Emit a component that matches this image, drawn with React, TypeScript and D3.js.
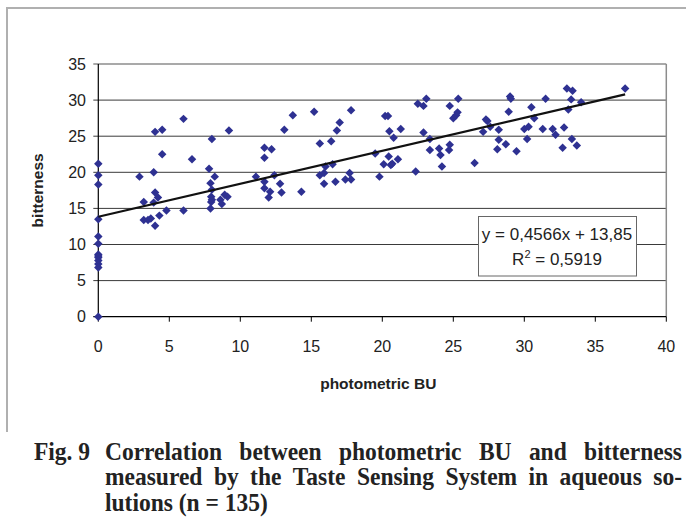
import React, { useMemo } from 'react';
import * as d3 from 'd3';

// ---- data ----
const xTicks = [0, 5, 10, 15, 20, 25, 30, 35, 40];
const yTicks = [0, 5, 10, 15, 20, 25, 30, 35];

// [photometric BU, bitterness]
const points: [number, number][] = [
  [0, 21.2], [0, 19.6], [0, 18.3], [0, 13.5], [0, 11.1], [0, 10.1], [0, 8.6], [0, 8.4], [0, 8.2], [0, 7.8], [0, 7.3], [0, 6.8], [0, 0],
  [2.9, 19.4], [3.2, 15.9], [3.2, 13.4], [3.5, 13.4], [3.7, 13.6], [3.9, 20.0], [3.9, 15.8], [4.0, 25.6], [4.0, 17.2], [4.2, 16.5],
  [4.0, 12.6], [4.3, 14.0], [4.5, 25.9], [4.5, 22.5], [4.8, 14.7], [6.0, 27.4], [6.0, 14.7], [6.6, 21.8],
  [8.0, 24.6], [7.8, 20.5], [8.2, 19.4], [7.9, 18.5], [8.0, 17.6], [7.95, 16.6], [7.95, 15.9], [7.9, 15.0], [8.0, 16.2],
  [8.6, 16.2], [8.7, 15.6], [8.9, 16.9], [9.1, 16.6], [9.2, 25.8],
  [11.1, 19.4], [11.7, 23.4], [12.2, 23.2], [11.7, 22.0], [11.7, 18.7], [12.4, 19.6], [11.7, 17.8], [12.1, 17.3], [12.0, 16.5],
  [12.8, 18.4], [12.9, 17.2], [14.3, 17.3], [13.1, 25.9], [13.7, 27.9],
  [15.2, 28.4], [15.6, 24.0], [16.4, 24.3], [16.8, 25.8], [17.0, 26.9], [17.8, 28.6], [15.6, 19.6], [15.9, 19.9], [15.9, 18.4],
  [16.5, 21.1], [16.0, 20.8], [16.7, 18.7], [17.4, 19.0], [17.7, 19.9], [17.8, 19.0],
  [19.5, 22.6], [19.8, 19.4], [20.1, 21.1], [20.2, 27.8], [20.4, 27.8], [20.5, 25.7], [20.8, 24.8], [21.3, 26.0], [20.45, 22.2],
  [20.7, 21.2], [21.1, 21.8], [20.6, 21.0],
  [22.35, 20.1], [22.5, 29.5], [22.9, 29.2], [23.1, 30.2], [22.9, 25.5], [23.35, 24.6], [23.35, 23.1], [24.0, 23.3], [24.1, 22.4],
  [24.2, 20.8], [24.7, 23.1], [24.75, 23.8], [24.75, 29.2], [25.35, 30.2], [25.0, 27.5], [25.2, 27.9], [25.3, 28.3],
  [26.5, 21.3], [27.1, 25.6], [27.4, 27.1], [27.3, 27.3], [27.6, 26.3], [28.2, 25.9], [28.2, 24.5], [28.1, 23.2], [28.7, 23.9],
  [29.0, 30.5], [29.05, 30.2], [28.9, 28.4], [29.45, 22.9],
  [30.0, 26.0], [30.3, 26.3], [30.2, 24.6], [30.5, 29.0], [30.7, 27.5], [31.5, 30.2], [31.3, 26.0], [32.0, 26.0], [32.2, 25.2],
  [32.7, 23.4], [32.8, 26.2], [33.0, 31.6], [33.4, 31.3], [33.3, 30.1], [33.1, 28.7], [33.35, 24.6], [33.7, 23.7], [34.0, 29.7],
  [37.1, 31.6],
];

const slope = 0.4566;
const intercept = 13.85;
const equationText = 'y = 0,4566x + 13,85';
const r2Text = ' = 0,5919';
const xTitle = 'photometric BU';
const yTitle = 'bitterness';
const captionLabel = 'Fig. 9';
const captionLines = [
  'Correlation between photometric BU and bitterness',
  'measured by the Taste Sensing System in aqueous so-',
  'lutions (n = 135)',
];

const W = 686;
const H = 526;
const SANS = "'Liberation Sans', Arial, sans-serif";
const SERIF = "'Liberation Serif', 'Times New Roman', serif";
const MARK = '#2E3192';
const CAP_SIZE = 25;
const CAP_SX = 0.94;

export default function App() {
  const x = d3.scaleLinear().domain([0, 40]).range([98.3, 666.3]);
  const y = d3.scaleLinear().domain([0, 35]).range([316.7, 64]);
  const sym = d3.symbol().type(d3.symbolSquare).size(36)();
  const xMax = d3.max(points, (p) => p[0]) as number;
  const trend = d3.line<number>()
    .x((v) => x(v))
    .y((v) => y(slope * v + intercept))([0, xMax]);

  const caption = useMemo(() => {
    const canvas = document.createElement('canvas');
    const ctx = canvas.getContext('2d')!;
    ctx.font = `bold ${CAP_SIZE}px "Liberation Serif"`;
    const x0 = 105 / CAP_SX;
    const x1 = 682 / CAP_SX;
    return captionLines.map((line, i) => {
      const words = line.split(' ');
      const widths = words.map((w) => ctx.measureText(w).width);
      const justify = i < captionLines.length - 1;
      const total = d3.sum(widths);
      const gap = justify ? (x1 - x0 - total) / (words.length - 1) : ctx.measureText(' ').width;
      let cx = x0;
      return words.map((w, j) => {
        const pos = cx;
        cx += widths[j] + gap;
        return { w, pos };
      });
    });
  }, []);

  const [plotL, plotR] = x.range();
  const [plotB, plotT] = y.range();

  return (
    <svg width={W} height={H} style={{ position: 'absolute', left: 0, top: 0, background: '#fff' }}>
      <rect x={0} y={0} width={W} height={H} fill="#fff" />
      {/* chart frame */}
      <line x1={6} y1={8} x2={W} y2={8} stroke="#b0b0b0" strokeWidth={2} />
      <line x1={7} y1={7} x2={7} y2={432} stroke="#b0b0b0" strokeWidth={2} />

      {/* gridlines */}
      {yTicks.filter((t) => t > 0 && t < 35).map((t) => (
        <line key={t} x1={plotL - 5} x2={plotR} y1={y(t)} y2={y(t)} stroke="#3a3a3a" strokeWidth={1} />
      ))}
      {/* plot border top/right */}
      <line x1={plotL - 5} x2={plotR} y1={plotT} y2={plotT} stroke="#8c8c8c" strokeWidth={1.5} />
      <line x1={plotR} x2={plotR} y1={plotT} y2={plotB} stroke="#8c8c8c" strokeWidth={1.5} />

      {/* axes */}
      <line x1={plotL} x2={plotL} y1={plotT} y2={plotB} stroke="#000" strokeWidth={1.2} />
      <line x1={plotL - 5} x2={plotR} y1={plotB} y2={plotB} stroke="#000" strokeWidth={1.2} />
      {xTicks.map((t) => (
        <g key={t}>
          <line x1={x(t)} x2={x(t)} y1={plotB} y2={plotB + 5} stroke="#000" strokeWidth={1} />
          <text x={x(t)} y={352} textAnchor="middle" fontFamily={SANS} fontSize={16} fill="#222">{t}</text>
        </g>
      ))}
      {yTicks.map((t) => (
        <text key={t} x={86} y={y(t) + 5.5} textAnchor="end" fontFamily={SANS} fontSize={16} fill="#222">{t}</text>
      ))}

      {/* axis titles */}
      <text x={(plotL + plotR) / 2 - 4} y={389} textAnchor="middle" fontFamily={SANS} fontWeight="bold" fontSize={15.5} fill="#222">{xTitle}</text>
      <text transform={`translate(43, ${(plotT + plotB) / 2}) rotate(-90)`} textAnchor="middle" fontFamily={SANS} fontWeight="bold" fontSize={15.5} fill="#222">{yTitle}</text>

      {/* points */}
      {points.map((p, i) => (
        <path key={i} d={sym} transform={`translate(${x(p[0])},${y(p[1])}) rotate(45)`} fill={MARK} />
      ))}

      {/* trend line */}
      <path d={trend || ''} stroke="#111" strokeWidth={2.2} fill="none" />

      {/* equation box */}
      <rect x={478.5} y={216.5} width={158} height={59.5} fill="#fff" stroke="#666" strokeWidth={1} />
      <text x={557} y={240} textAnchor="middle" fontFamily={SANS} fontSize={17} fill="#222">{equationText}</text>
      <text x={557} y={265} textAnchor="middle" fontFamily={SANS} fontSize={17} fill="#222">
        R<tspan dy={-7} fontSize={11}>2</tspan><tspan dy={7}>{r2Text}</tspan>
      </text>

      {/* caption */}
      <g transform={`scale(${CAP_SX},1)`}>
        <text x={34 / CAP_SX} y={460} fontFamily={SERIF} fontWeight="bold" fontSize={CAP_SIZE} fill="#222">{captionLabel}</text>
        {caption.map((line, i) => (
          <g key={i}>
            {line.map((w, j) => (
              <text key={j} x={w.pos} y={460 + i * 25.5} fontFamily={SERIF} fontWeight="bold" fontSize={CAP_SIZE} fill="#222">{w.w}</text>
            ))}
          </g>
        ))}
      </g>
    </svg>
  );
}
